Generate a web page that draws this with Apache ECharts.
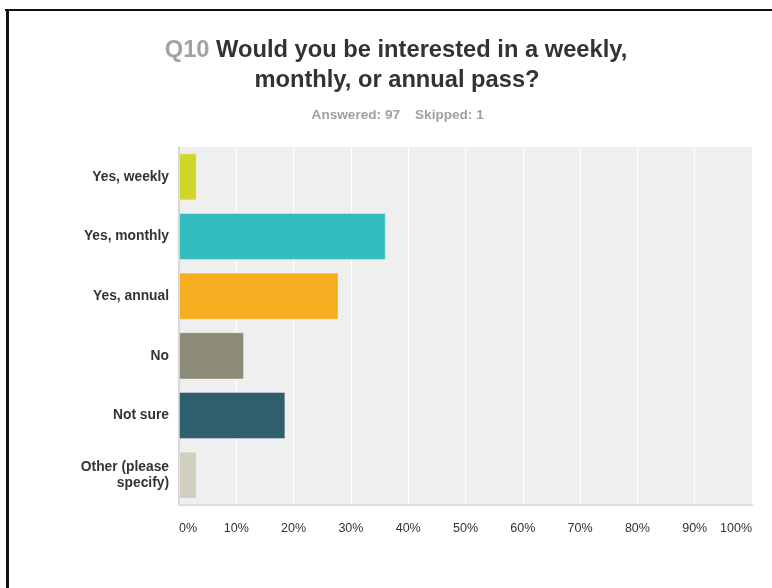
<!DOCTYPE html>
<html>
<head>
<meta charset="utf-8">
<script src="https://cdn.jsdelivr.net/npm/echarts@6/dist/echarts.min.js"></script>
<style>
html,body{margin:0;padding:0;background:#fff;}
#chart{width:772px;height:588px;}
</style>
</head>
<body>
<div id="chart"></div>
<script>
const categories = ["Yes, weekly", "Yes, monthly", "Yes, annual", "No", "Not sure", "Other (please\nspecify)"];
const percentValues = [3.09, 36.08, 27.84, 11.34, 18.56, 3.09];
const barColors = ["#d0d52a", "#33bdbf", "#f6ae20", "#8b8b78", "#2f5f6c", "#d1cfc0"];
const xTickMin = 0;
const xTickMax = 100;
const xTickStep = 10;
const titleQ = "Q10";
const titleLine1 = " Would you be interested in a weekly,";
const titleLine2 = "monthly, or annual pass?";
const answeredText = "Answered: 97";
const skippedText = "Skipped: 1";

const chart = echarts.init(document.getElementById('chart'), null, {renderer: 'canvas'});
const font = "'Liberation Sans', Arial, sans-serif";
chart.setOption({
  animation: false,
  backgroundColor: '#ffffff',
  grid: {
    left: 179, right: 20, top: 147, bottom: 83,
    show: true, backgroundColor: '#efefef', borderWidth: 0
  },
  xAxis: {
    type: 'value',
    min: xTickMin, max: xTickMax, interval: xTickStep,
    axisLine: {show: true, lineStyle: {color: '#dcdcdc', width: 2}},
    axisTick: {show: false},
    splitLine: {show: true, lineStyle: {color: '#ffffff', width: 1}},
    axisLabel: {
      formatter: '{value}%', color: '#333333', fontFamily: font, fontSize: 12.5,
      margin: 17, alignMinLabel: 'left', alignMaxLabel: 'right'
    }
  },
  yAxis: {
    type: 'category',
    data: categories,
    inverse: true,
    axisLine: {show: true, lineStyle: {color: '#d8d8d8', width: 2}},
    axisTick: {show: false},
    splitLine: {show: false},
    axisLabel: {
      color: '#333333', fontFamily: font, fontWeight: 'bold', fontSize: 13.8,
      margin: 10, lineHeight: 16, align: 'right'
    }
  },
  series: [{
    type: 'bar',
    data: percentValues.map((v, i) => ({value: v, itemStyle: {color: barColors[i]}})),
    barCategoryGap: '21%',
    itemStyle: {borderColor: 'rgba(255,255,255,0.35)', borderWidth: 1}
  }],
  graphic: [
    {type: 'line', shape: {x1: 5, y1: 10, x2: 772, y2: 10}, style: {stroke: '#111111', lineWidth: 2}},
    {type: 'line', shape: {x1: 7.5, y1: 9, x2: 7.5, y2: 588}, style: {stroke: '#111111', lineWidth: 3}},
    {
      type: 'text', x: 396, y: 50,
      style: {
        text: '{q|' + titleQ + '}{t|' + titleLine1 + '}',
        textAlign: 'center', textVerticalAlign: 'middle',
        rich: {
          q: {fill: '#a3a3a3', fontFamily: font, fontWeight: 'bold', fontSize: 23.7},
          t: {fill: '#333333', fontFamily: font, fontWeight: 'bold', fontSize: 23.7}
        }
      }
    },
    {
      type: 'text', x: 397, y: 80,
      style: {
        text: titleLine2, textAlign: 'center', textVerticalAlign: 'middle',
        fill: '#333333', fontFamily: font, fontWeight: 'bold', fontSize: 23.7
      }
    },
    {
      type: 'text', x: 400, y: 115,
      style: {
        text: answeredText, textAlign: 'right', textVerticalAlign: 'middle',
        fill: '#a0a0a0', fontFamily: font, fontWeight: 'bold', fontSize: 13.6
      }
    },
    {
      type: 'text', x: 415, y: 115,
      style: {
        text: skippedText, textAlign: 'left', textVerticalAlign: 'middle',
        fill: '#a0a0a0', fontFamily: font, fontWeight: 'bold', fontSize: 13.6
      }
    }
  ]
});
</script>
</body>
</html>
